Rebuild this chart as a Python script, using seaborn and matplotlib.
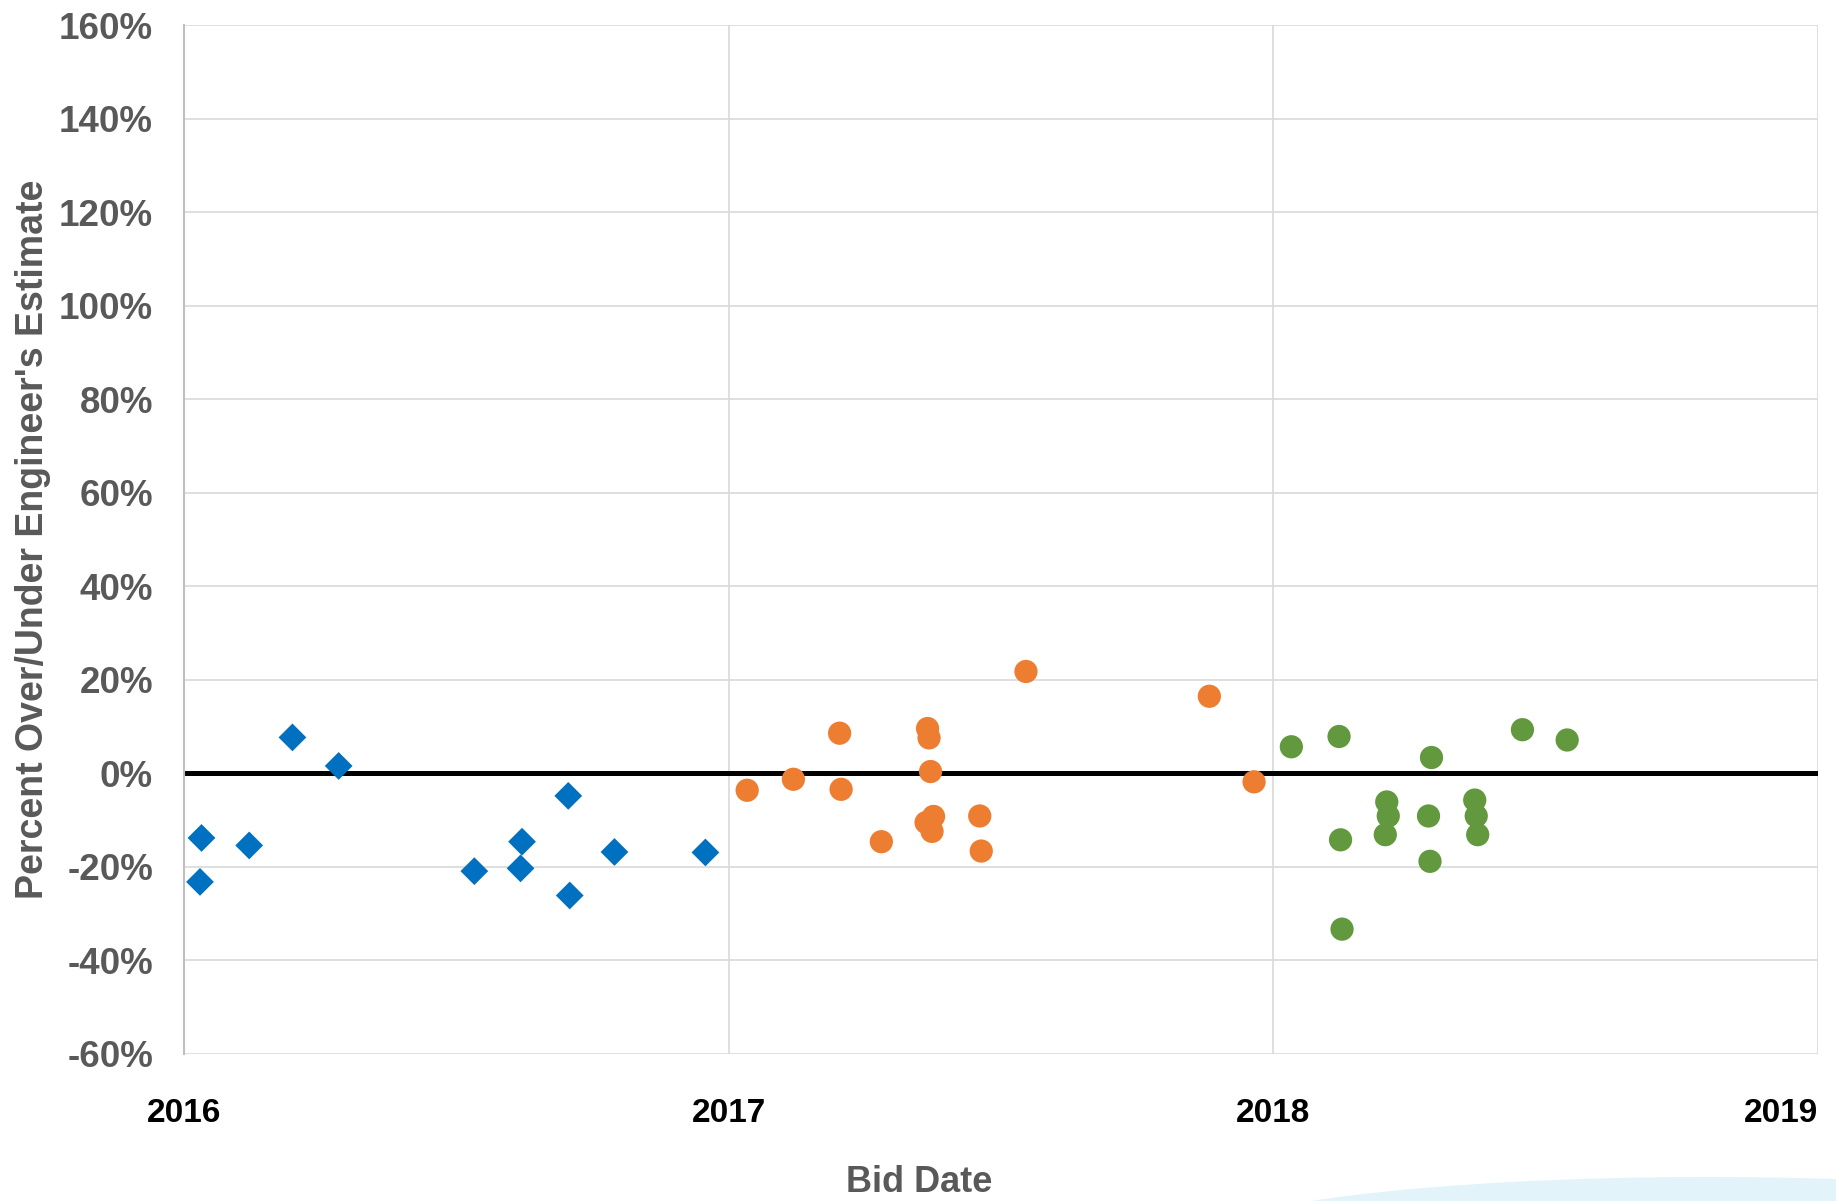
import pandas as pd
import matplotlib
matplotlib.use('Agg')
import matplotlib.pyplot as plt
import matplotlib.dates as mdates
from matplotlib.patches import Ellipse
from matplotlib.ticker import FuncFormatter
import seaborn as sns

# bids by year: date and percent over/under engineer's estimate
dates_2016 = ['2016-01-13', '2016-01-12', '2016-02-14', '2016-03-14', '2016-04-14', '2016-07-14',
              '2016-08-15', '2016-08-14', '2016-09-15', '2016-09-16', '2016-10-16', '2016-12-16']
pct_2016 = [-13.8, -23.2, -15.4, 7.7, 1.6, -20.9, -14.6, -20.3, -4.8, -26.1, -16.8, -16.9]

dates_2017 = ['2017-01-13', '2017-02-13', '2017-03-16', '2017-03-17', '2017-04-13', '2017-05-14',
              '2017-05-15', '2017-05-16', '2017-05-18', '2017-05-13', '2017-05-17', '2017-06-18',
              '2017-06-19', '2017-07-19', '2017-11-19', '2017-12-19']
pct_2017 = [-3.6, -1.25, 8.6, -3.4, -14.6, 9.6, 7.6, 0.4, -9.2, -10.5, -12.4, -9.1,
            -16.6, 21.8, 16.5, -1.8]

dates_2018 = ['2018-01-13', '2018-02-14', '2018-04-17', '2018-06-17', '2018-07-17', '2018-02-15',
              '2018-02-16', '2018-03-18', '2018-03-19', '2018-03-17', '2018-04-15', '2018-04-16',
              '2018-05-16', '2018-05-17', '2018-05-18']
pct_2018 = [5.7, 7.9, 3.4, 9.35, 7.15, -14.2, -33.3, -6.1, -9.1, -13.1, -9.1, -18.8,
            -5.7, -9.1, -13.1]

years = ['2016', '2017', '2018', '2019']
y_ticks = [-60, -40, -20, 0, 20, 40, 60, 80, 100, 120, 140, 160]

colors = {'2016': '#0070C0', '2017': '#ED7D31', '2018': '#62993E'}
markers = {'2016': 'D', '2017': 'o', '2018': 'o'}
sizes = {'2016': 200, '2017': 280, '2018': 280}

data = pd.concat([
    pd.DataFrame({'date': pd.to_datetime(dates_2016), 'pct': pct_2016, 'year': '2016'}),
    pd.DataFrame({'date': pd.to_datetime(dates_2017), 'pct': pct_2017, 'year': '2017'}),
    pd.DataFrame({'date': pd.to_datetime(dates_2018), 'pct': pct_2018, 'year': '2018'}),
])

sns.set_style('white')
plt.rcParams['font.family'] = ['Liberation Sans', 'DejaVu Sans']

fig = plt.figure(figsize=(18.36, 12.01), dpi=100)
ax = fig.add_axes([0.100, 0.1224, 0.890, 0.8566])

ax.axhline(0, color='black', lw=3.6, zorder=2)
sns.scatterplot(data=data, x='date', y='pct', hue='year', style='year', size='year',
                palette=colors, markers=markers, sizes=sizes, linewidth=0,
                legend=False, zorder=3, ax=ax)

ax.set_xlim(pd.Timestamp('2016-01-01'), pd.Timestamp('2019-01-01'))
ax.set_ylim(-60, 160)
ax.set_xticks(pd.to_datetime([y + '-01-01' for y in years]))
ax.xaxis.set_major_formatter(mdates.DateFormatter('%Y'))
ax.set_yticks(y_ticks)
ax.yaxis.set_major_formatter(FuncFormatter(lambda v, p: f'{v:.0f}%'))

ax.grid(True, color='#d9d9d9', lw=1.2)
ax.set_axisbelow(True)
for side in ['top', 'right', 'bottom']:
    ax.spines[side].set_visible(False)
ax.spines['left'].set_color('#bfbfbf')
ax.spines['left'].set_linewidth(1.5)

ax.tick_params(axis='y', length=0, pad=22, labelsize=26.5, labelcolor='#595959')
ax.tick_params(axis='x', length=0, pad=32, labelsize=24, labelcolor='black')
for lab in ax.get_yticklabels():
    lab.set_fontweight('bold')
for lab in ax.get_xticklabels():
    lab.set_fontweight('bold')
ax.get_xticklabels()[-1].set_horizontalalignment('right')

ax.set_xlabel('')
ax.set_ylabel("Percent Over/Under Engineer's Estimate", fontsize=27, fontweight='bold', color='#595959')
ax.yaxis.set_label_coords(-0.081, 0.5)
ax.text(0.45, -0.125, 'Bid Date', transform=ax.transAxes, ha='center', va='center',
        fontsize=26, fontweight='bold', color='#595959')

# light blue swoosh from the slide background
fig.patches.append(Ellipse((0.93, -0.035), 0.56, 0.11, transform=fig.transFigure,
                           facecolor='#e2f3fa', edgecolor='none', zorder=0))

fig.savefig('out.png', dpi=100)
